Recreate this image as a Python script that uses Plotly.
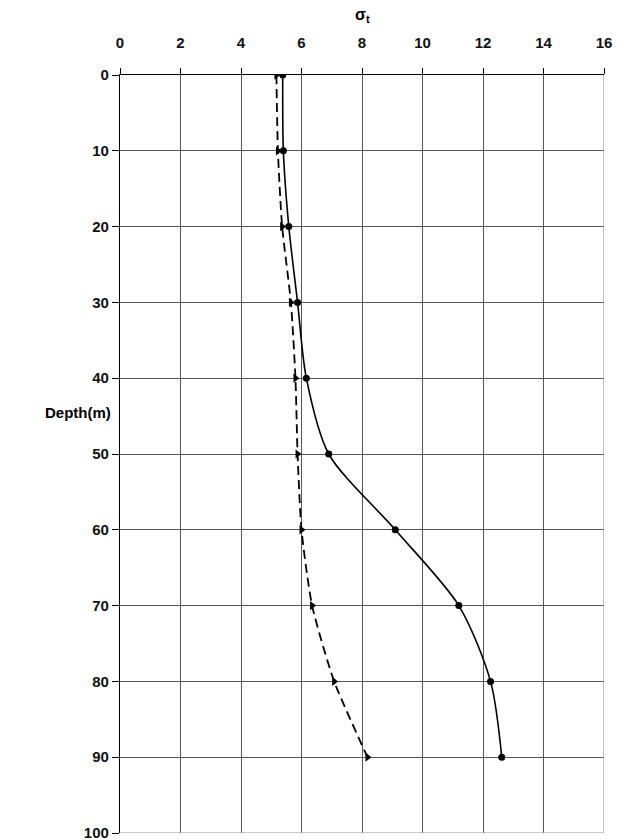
import plotly.graph_objects as go

depth = [0, 10, 20, 30, 40, 50, 60, 70, 80, 90]
sigma_solid = [5.38, 5.4, 5.58, 5.87, 6.16, 6.9, 9.1, 11.2, 12.25, 12.62]
sigma_dashed = [5.17, 5.22, 5.36, 5.65, 5.8, 5.87, 6.0, 6.35, 7.08, 8.18]
x_ticks = [0, 2, 4, 6, 8, 10, 12, 14, 16]
y_ticks = [0, 10, 20, 30, 40, 50, 60, 70, 80, 90, 100]

fig = go.Figure()
fig.add_trace(go.Scatter(
    x=sigma_dashed, y=depth, mode="lines+markers",
    line=dict(color="black", width=1.8, dash="9px,5px", shape="spline", smoothing=0.6),
    marker=dict(symbol="triangle-right", size=8, color="black"),
    showlegend=False))
fig.add_trace(go.Scatter(
    x=sigma_solid, y=depth, mode="lines+markers",
    line=dict(color="black", width=1.6, shape="spline", smoothing=0.8),
    marker=dict(symbol="circle", size=7, color="black"),
    showlegend=False))

tickfont = dict(family="Liberation Sans, Arial", size=15, color="#111111", weight="bold")

fig.update_layout(
    width=626, height=840,
    margin=dict(l=120, r=22, t=75, b=7, autoexpand=False),
    paper_bgcolor="white", plot_bgcolor="white",
    font=dict(family="Liberation Sans, Arial", size=14, color="black"),
    xaxis=dict(range=[0, 16], tickvals=x_ticks, side="top",
               showgrid=True, gridcolor="#555555", gridwidth=1.2,
               showline=True, linecolor="black", linewidth=1.2,
               ticks="outside", ticklen=6, tickcolor="black",
               ticklabelstandoff=14, tickfont=tickfont, automargin=False,
               zeroline=False, mirror=False),
    yaxis=dict(range=[100, 0], tickvals=y_ticks,
               showgrid=True, gridcolor="#555555", gridwidth=1.2,
               showline=True, linecolor="black", linewidth=1.2,
               ticks="outside", ticklen=7, tickcolor="black",
               tickfont=tickfont, ticklabeloverflow="allow", automargin=False,
               zeroline=False),
    shapes=[
        dict(type="line", xref="x", yref="y", x0=16, x1=16, y0=0, y1=100,
             line=dict(color="#999999", width=1.2)),
        dict(type="line", xref="x", yref="y", x0=0, x1=16, y0=100, y1=100,
             line=dict(color="#999999", width=1.2)),
    ],
    annotations=[
        dict(text="<b>σ<sub>t</sub></b>", xref="x", yref="paper", x=8, y=1.0,
             yshift=48, yanchor="bottom", showarrow=False, font=dict(size=16)),
        dict(text="<b>Depth(m)</b>", xref="paper", yref="y", x=0, y=44.5,
             xanchor="right", xshift=-7, showarrow=False, font=dict(size=15)),
    ],
)
fig.write_html("out.html")
